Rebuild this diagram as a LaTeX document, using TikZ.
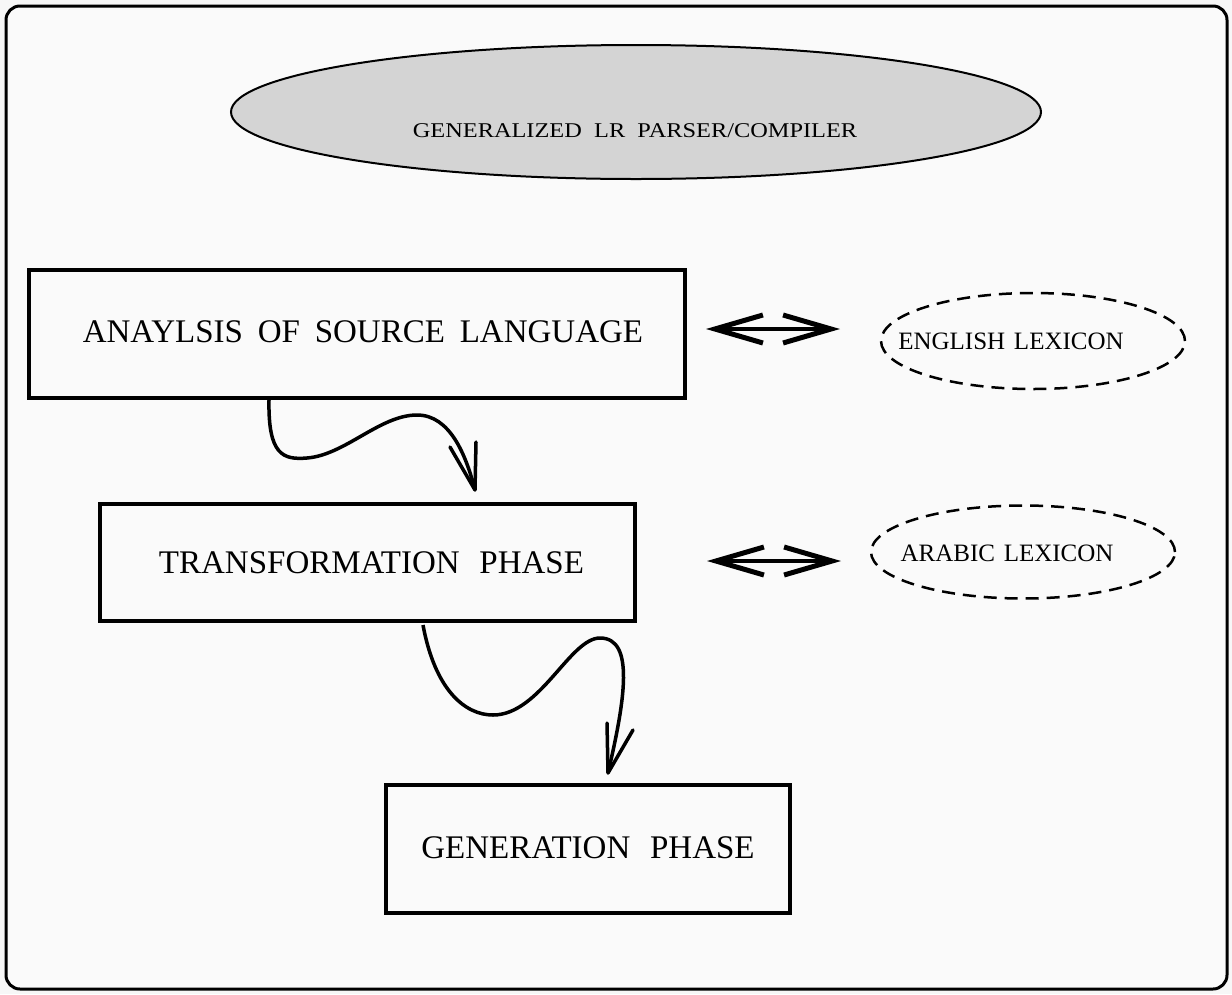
\documentclass[tikz,border=0pt]{standalone}
\usepackage{fontspec}
\setmainfont{Liberation Serif}
\usetikzlibrary{shapes.geometric,arrows.meta}
\begin{document}
\begin{tikzpicture}[x=1pt,y=-1pt,
  box/.style={draw,line width=4pt,inner sep=0pt,font=\fontsize{33}{36}\selectfont},
  lex/.style={draw,ellipse,dash pattern=on 13pt off 8pt,line width=2.5pt,inner sep=0pt},
  lextext/.style={inner sep=0pt,font=\fontsize{25}{28}\selectfont},
  dbl/.style={line width=4pt,{Straight Barb[length=48pt,width=28pt,line width=5pt]}-{Straight Barb[length=48pt,width=28pt,line width=5pt]}},
  flow/.style={line width=3.5pt},
  head/.style={line width=3.5pt,line cap=round,line join=round}
]
\useasboundingbox (0,0) rectangle (1232,994);
\fill[black!3] (0,0) rectangle (1232,994);
\draw[line width=3pt,rounded corners=14pt,fill=black!2] (6,6) rectangle (1227,989);

\node[draw,ellipse,fill=black!17,line width=2pt,minimum width=810pt,minimum height=134pt,inner sep=0pt] (top) at (636,112) {};
\node[inner sep=0pt,font=\fontsize{21}{24}\selectfont] (toptext) at (635,131)
  {\scalebox{1.16}[1]{GENERALIZED\hspace{0.5em}LR\hspace{0.5em}PARSER/COMPILER}};

\node[box,minimum width=656pt,minimum height=128pt] (ana) at (357,334)
  {\hspace*{12pt}\raisebox{4pt}{ANAYLSIS\hspace{0.45em}OF\hspace{0.45em}SOURCE\hspace{0.45em}LANGUAGE}};
\node[box,minimum width=535pt,minimum height=117pt] (tra) at (367.5,562.5)
  {\hspace*{8pt}TRANSFORMATION\hspace{0.6em}PHASE};
\node[box,minimum width=404pt,minimum height=128pt] (gen) at (588,849)
  {\raisebox{3pt}{GENERATION\hspace{0.6em}PHASE}};

\node[lex,minimum width=304pt,minimum height=96pt] (eng) at (1033,341) {};
\node[lextext] (engtext) at (1011,341) {ENGLISH\hspace{0.35em}LEXICON};
\node[lex,minimum width=304pt,minimum height=93pt] (arb) at (1023,552) {};
\node[lextext] (arbtext) at (1007,553) {ARABIC\hspace{0.35em}LEXICON};

\coordinate (d1a) at (706,329);
\coordinate (d1b) at (840,329);
\coordinate (d2a) at (707,561);
\coordinate (d2b) at (841,561);
\draw[dbl] (d1a) -- (d1b);
\draw[dbl] (d2a) -- (d2b);

% curved connector 1
\coordinate (s1) at (269,400);
\coordinate (t1) at (475,490);
\draw[flow] (s1) .. controls (268,455) and (283,460) .. (307,458)
  .. controls (345,455) and (380,415) .. (417,415)
  .. controls (450,415) and (466,455) .. (t1);
\draw[head] (t1) -- ++(-25,-43) (t1) -- ++(1,-48);

% curved connector 2
\coordinate (s2) at (423,625);
\coordinate (t2) at (608,773);
\draw[flow] (s2) .. controls (435,690) and (465,715) .. (493,715)
  .. controls (540,715) and (570,638) .. (600,638)
  .. controls (635,638) and (625,700) .. (t2);
\draw[head] (t2) -- ++(-1,-50) (t2) -- ++(25,-43);
\end{tikzpicture}
\end{document}
